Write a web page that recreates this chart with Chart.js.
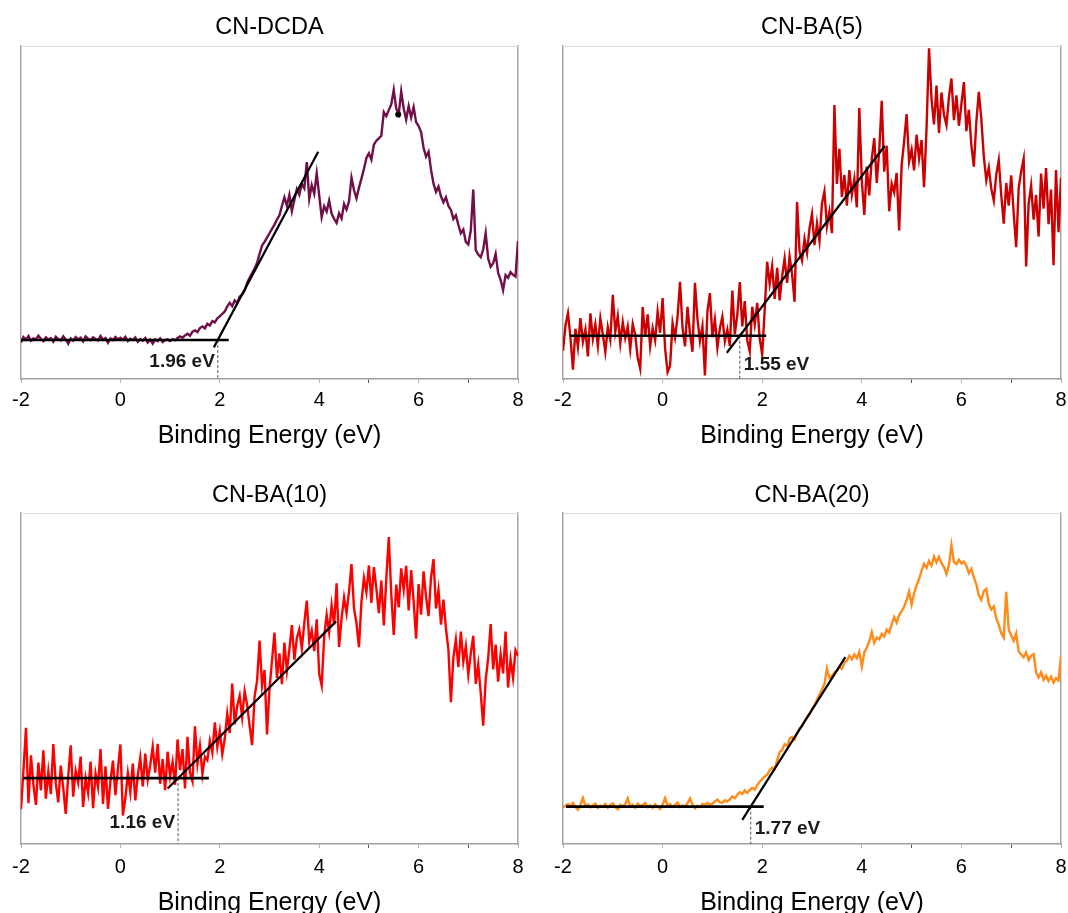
<!DOCTYPE html>
<html>
<head>
<meta charset="utf-8">
<script src="https://cdn.jsdelivr.net/npm/chart.js@4.4.1/dist/chart.umd.min.js"></script>
<style>
  html, body { margin: 0; padding: 0; background: #fff; overflow: hidden; }
  body { width: 1068px; height: 913px; position: relative; }
  canvas { position: absolute; }
</style>
</head>
<body>
<canvas id="dcda" width="534" height="456" style="left:0;top:0"></canvas>
<canvas id="ba5" width="534" height="456" style="left:534px;top:0"></canvas>
<canvas id="ba10" width="534" height="470" style="left:0;top:456px"></canvas>
<canvas id="ba20" width="534" height="470" style="left:534px;top:456px"></canvas>
<script>
// spectra are sampled every 0.05 eV starting at -2 eV
const E_START = -2;
const E_STEP = 0.05;

const panelTitles = ['CN-DCDA', 'CN-BA(5)', 'CN-BA(10)', 'CN-BA(20)'];
const bandGaps = [1.96, 1.55, 1.16, 1.77];
const baselineLevels = [11.7, 13.0, 19.9, 11.3];
const baselineSpans = [[-2.0, 2.18], [-1.86, 2.08], [-1.95, 1.78], [-1.94, 2.03]];
const tangentStarts = [[1.88, 9.5], [1.29, 7.9], [0.95, 16.8], [1.60, 7.3]];
const tangentEnds = [[3.98, 68.3], [4.46, 70.0], [4.34, 67.3], [3.67, 56.5]];
const dcdaPeakDot = [5.59, 79.5];

const dcdaCounts = [
  11.0, 12.6, 11.8, 12.9, 11.5, 12.2, 11.9, 13.0, 12.1, 11.4,
  12.5, 11.8, 12.3, 11.2, 12.7, 12.0, 11.6, 12.8, 11.9, 10.6,
  12.2, 11.5, 12.6, 11.9, 12.4, 11.3, 12.8, 12.1, 11.7, 12.5,
  12.0, 11.6, 12.9, 11.8, 12.3, 10.9, 12.2, 11.7, 12.6, 11.9,
  12.4, 11.8, 12.7, 11.4, 12.1, 11.7, 12.5, 11.2, 12.0, 11.5,
  12.3, 11.0, 11.8, 10.6, 11.9, 11.4, 12.2, 11.1, 11.7, 11.9,
  11.4, 12.0, 11.6, 12.3, 12.8, 12.4, 13.1, 13.6, 13.0, 14.2,
  14.6, 14.1, 15.3, 15.8, 15.2, 16.6, 16.1, 17.4, 17.0, 18.2,
  18.8, 19.6, 20.3, 21.8, 22.9, 21.9, 23.6, 22.8, 24.7, 25.4,
  26.5, 28.9, 30.4, 31.8, 33.2, 34.9, 37.6, 40.1, 41.2, 42.5,
  43.8, 45.1, 46.4, 47.9, 49.2, 52.0, 54.6, 52.1, 55.3, 50.4,
  53.8, 57.1, 55.4, 58.6, 57.3, 65.2, 54.1, 58.3, 55.7, 61.8,
  55.2, 48.6, 51.9, 50.3, 53.6, 49.7, 48.1, 46.9, 49.8, 48.2,
  52.6, 50.9, 53.4, 60.5, 56.8, 54.3, 57.5, 60.2, 63.1, 66.4,
  67.8, 65.9, 70.4, 71.6, 72.3, 73.1, 80.2, 79.0, 80.8, 82.5,
  86.9, 81.2, 79.6, 86.4, 81.3, 77.9, 82.0, 78.6, 81.7, 77.2,
  76.0, 74.2, 69.5, 66.8, 68.3, 62.9, 58.7, 56.2, 57.8, 54.9,
  53.1, 54.6, 52.0, 50.8, 48.1, 49.2, 46.3, 43.8, 44.9, 41.2,
  40.4, 44.6, 56.9, 38.7, 37.4, 36.6, 38.9, 43.8, 36.2, 33.7,
  34.8, 37.6, 31.9, 29.8, 26.7, 31.2, 30.4, 32.1, 31.3, 30.8,
  41.5
];

const ba5Counts = [
  8.5, 16.2, 19.8, 12.4, 2.8, 15.1, 9.6, 18.3, 11.2, 14.9,
  6.8, 19.7, 12.1, 16.4, 9.9, 18.2, 13.4, 8.1, 15.6, 11.8,
  25.3, 14.2, 18.9, 10.7, 17.1, 12.3, 15.8, 8.9, 16.5, 13.2,
  6.4, 3.1, 21.6, 12.7, 19.4, 9.8, 15.3, 11.6, 20.2, 13.9,
  24.3, 9.2, 2.1, 4.0, 16.8, 12.5, 18.6, 29.2, 15.4, 9.8,
  21.7, 13.6, 8.2, 28.9, 18.1, 11.4, 15.9, 1.1, 20.3, 25.8,
  12.6, 17.9, 9.4, 15.2, 18.7, 11.3, 14.8, 9.9, 26.6, 13.5,
  19.2, 29.1, 15.8, 23.4, 11.6, 8.3, 21.7, 16.4, 22.9, 12.1,
  7.4, 20.8, 35.2, 28.6, 33.9, 24.1, 33.4, 23.6, 30.8, 36.2,
  28.9, 36.8, 31.5, 23.2, 53.2, 38.4, 35.6, 42.1, 37.9, 45.3,
  49.6, 40.2, 46.8, 41.5, 52.7, 56.4, 45.9, 50.3, 43.8, 82.3,
  58.6, 69.2, 54.7, 61.3, 52.1, 62.8, 55.4, 60.1, 51.6, 81.4,
  59.7, 49.3, 63.8, 55.2, 66.1, 72.4, 58.9, 68.5, 83.6, 62.3,
  70.1, 50.4, 58.7, 56.1, 61.9, 44.6, 64.2, 71.5, 79.6, 65.3,
  68.9, 62.7, 73.4, 66.2, 71.8, 57.6, 75.3, 99.4, 84.1, 76.5,
  88.2, 73.9, 86.1, 79.4, 76.3, 84.7, 90.3, 77.8, 85.2, 76.1,
  82.6, 89.2, 74.5, 80.9, 70.3, 63.8, 77.2, 86.3, 78.1, 66.9,
  59.7, 63.5, 57.2, 53.6, 61.4, 65.8, 55.3, 46.7, 58.9, 52.1,
  61.2, 49.8, 39.6, 57.3, 62.4, 66.2, 33.8, 52.6, 58.1, 47.9,
  55.3, 42.8, 61.7, 51.2, 63.4, 46.5, 56.9, 34.2, 62.8, 44.1,
  60.5
];

const ba10Counts = [
  10.5, 22.4, 35.1, 12.3, 26.8, 17.9, 11.8, 24.6, 16.2, 28.3,
  13.7, 21.9, 15.1, 30.2, 18.4, 12.6, 23.7, 16.9, 9.1, 20.5,
  29.8, 14.3, 22.1, 18.6, 26.4, 11.2, 19.8, 15.4, 24.9, 10.8,
  21.3, 17.2, 28.7, 12.1, 23.5, 10.6, 19.1, 25.2, 14.8, 22.7,
  30.1, 8.6, 13.9, 21.4, 15.6, 24.3, 13.2, 20.8, 26.1, 17.4,
  27.3, 19.5, 23.8, 29.4, 21.6, 30.3, 18.2, 25.7, 16.3, 27.9,
  20.4, 24.8, 17.9, 31.6, 22.3, 28.7, 16.8, 32.4, 21.5, 18.9,
  35.6, 24.2, 29.7, 21.1, 26.4, 25.3, 31.2, 27.6, 36.8, 29.3,
  34.1, 27.2, 31.8, 39.4, 33.6, 48.5, 36.2, 41.7, 44.8, 38.3,
  46.2, 42.1, 35.7, 29.9, 44.6, 49.3, 61.5, 47.8, 52.6, 33.1,
  46.9, 55.4, 63.9, 50.2, 57.6, 48.3, 60.9, 52.4, 58.8, 66.2,
  55.7, 62.3, 64.9, 59.1, 66.8, 73.6, 61.2, 64.5, 58.3, 67.9,
  51.4, 47.9, 62.7, 69.3, 64.1, 72.2, 66.4, 78.8, 59.6, 68.2,
  74.5, 69.8, 76.4, 84.6, 71.3, 66.8, 59.5, 73.2, 80.4, 76.1,
  84.2, 72.9, 83.7, 77.3, 69.8, 79.6, 66.1, 80.2, 92.8, 75.6,
  63.2, 78.4, 71.5, 83.3, 76.9, 84.1, 70.6, 82.8, 73.4, 62.1,
  78.6, 69.3, 82.4, 74.7, 68.9, 80.5, 86.1, 71.2, 76.8, 66.3,
  73.9, 65.2, 58.7, 42.9, 56.4, 61.8, 53.5, 64.2, 55.1, 59.8,
  51.2, 57.6, 62.9, 48.4, 54.3, 45.7, 35.8, 49.6, 56.2, 66.5,
  52.8, 60.3, 49.1, 57.4, 51.6, 64.2, 47.3, 55.8, 50.2, 58.6,
  56.9
];

const ba20Counts = [
  11.0, 11.6, 12.1, 11.4, 12.4, 11.2, 10.4, 11.8, 13.9, 11.5,
  12.0, 11.1, 11.7, 12.2, 10.9, 11.6, 11.3, 12.1, 11.0, 11.8,
  12.3, 11.1, 10.5, 11.9, 11.4, 12.0, 13.8, 11.3, 11.9, 11.0,
  12.2, 11.5, 11.8, 12.4, 11.2, 11.7, 10.9, 12.0, 11.4, 10.6,
  11.9, 13.9, 11.6, 12.1, 11.3, 11.8, 12.5, 11.2, 11.7, 11.4,
  12.3, 13.8, 11.9, 10.8, 11.6, 11.2, 12.1, 11.8, 12.4, 11.9,
  12.2, 12.9, 13.4, 12.6, 12.5, 13.2, 12.8, 13.5, 14.4, 13.8,
  14.9, 15.6, 15.1, 16.2, 15.4, 16.3, 17.0, 16.4, 17.8, 18.9,
  19.6, 20.4, 20.9, 22.3, 23.1, 22.6, 25.3, 27.8, 28.4, 30.2,
  29.6, 31.8, 32.4, 31.6, 33.4, 34.9, 35.6, 37.1, 38.4, 39.2,
  40.8, 41.9, 43.6, 45.2, 46.7, 48.3, 53.1, 50.2, 50.8, 51.9,
  52.4, 53.6, 52.9, 54.8, 55.4, 56.9, 55.8, 57.3, 56.2, 58.1,
  53.6, 57.9, 59.3, 61.2, 64.1, 60.8, 62.4, 61.9, 63.5, 62.7,
  64.8, 63.9, 66.4, 68.6, 66.9, 69.2, 70.4, 71.8, 73.6, 76.3,
  72.4, 75.8, 78.2, 80.1, 82.6, 84.7, 83.5, 85.6, 84.2, 86.9,
  85.1, 86.8, 84.9, 83.7, 81.6, 84.3, 90.4, 85.2, 84.6, 85.9,
  84.8, 85.4, 84.1, 81.9, 83.2, 80.6, 78.5, 75.2, 73.8, 76.4,
  77.1, 72.6, 70.9, 71.8, 68.2, 66.3, 63.7, 62.4, 76.2, 64.8,
  63.1, 61.4, 63.7, 58.2, 57.3, 56.4, 57.9, 55.6, 56.9, 57.4,
  51.8, 50.3, 51.9, 49.6, 50.9, 49.3, 50.6, 48.8, 50.1, 49.4,
  56.9
];

const spectra = [dcdaCounts, ba5Counts, ba10Counts, ba20Counts];

Chart.defaults.font.family = '"Liberation Sans", Arial, sans-serif';
Chart.defaults.color = '#000';

// per-panel drawing setup
const panelStyles = [
  { canvas: 'dcda', color: '#700f48', padL: 21, padR: 16, titleTop: 13, titleBottom: 5, axisH: 77, tickPad: 5, axisTitlePad: 5, labelSide: 'left', labelY: 5.1 },
  { canvas: 'ba5', color: '#cc0000', padL: 29, padR: 7, titleTop: 13, titleBottom: 5, axisH: 77, tickPad: 5, axisTitlePad: 5, labelSide: 'right', labelY: 4.2 },
  { canvas: 'ba10', color: '#ff0000', padL: 21, padR: 16, titleTop: 25, titleBottom: 4, axisH: 82, tickPad: 7, axisTitlePad: 8, labelSide: 'left', labelY: 6.3 },
  { canvas: 'ba20', color: '#ff8c1a', padL: 29, padR: 7, titleTop: 25, titleBottom: 4, axisH: 82, tickPad: 7, axisTitlePad: 8, labelSide: 'right', labelY: 4.6 }
];

// writes "x.xx eV" next to the dashed onset marker
const gapLabel = {
  id: 'gapLabel',
  afterDatasetsDraw(chart, args, opts) {
    const { ctx, scales: { x, y } } = chart;
    const px = x.getPixelForValue(opts.value);
    const py = y.getPixelForValue(opts.y);
    ctx.save();
    ctx.font = 'bold 19px "Liberation Sans", Arial, sans-serif';
    ctx.fillStyle = '#1a1a1a';
    ctx.textBaseline = 'middle';
    if (opts.side === 'left') {
      ctx.textAlign = 'right';
      ctx.fillText(opts.value.toFixed(2) + ' eV', px - 3, py);
    } else {
      ctx.textAlign = 'left';
      ctx.fillText(opts.value.toFixed(2) + ' eV', px + 4, py);
    }
    ctx.restore();
  }
};

const tickShade = (tick) => {
  if (!tick) return '#b0b0b0';
  if (Math.abs(tick.value % 2) === 1) return tick.value >= 5 ? '#595959' : 'rgba(0,0,0,0)';
  return '#b0b0b0';
};

// bare axes used only for the box outline
const frameAxis = (pos, min, max, color, width) => ({
  type: 'linear', position: pos, min, max,
  ticks: { display: false },
  grid: { display: false, drawTicks: false },
  border: { color, width }
});

panelStyles.forEach((p, k) => {
  const points = spectra[k].map((v, i) => ({ x: +(E_START + i * E_STEP).toFixed(2), y: v }));
  const gap = bandGaps[k];
  const base = baselineLevels[k];

  const datasets = [
    {
      data: [{ x: baselineSpans[k][0], y: base }, { x: baselineSpans[k][1], y: base }],
      borderColor: '#000', borderWidth: 2.6, pointRadius: 0, order: 1
    },
    {
      data: [{ x: tangentStarts[k][0], y: tangentStarts[k][1] }, { x: tangentEnds[k][0], y: tangentEnds[k][1] }],
      borderColor: '#000', borderWidth: 2.2, pointRadius: 0, order: 1
    },
    {
      data: [{ x: gap, y: base }, { x: gap, y: 0 }],
      borderColor: '#555', borderWidth: 1, borderDash: [3, 2], pointRadius: 0, order: 1
    },
    {
      data: points,
      borderColor: p.color, borderWidth: 2.4, pointRadius: 0, tension: 0, order: 10
    }
  ];
  if (k === 0) {
    datasets.push({
      data: [{ x: dcdaPeakDot[0], y: dcdaPeakDot[1] }],
      showLine: false, pointRadius: 3, pointBackgroundColor: '#000', pointBorderWidth: 0, order: 0
    });
  }

  new Chart(document.getElementById(p.canvas), {
    type: 'line',
    data: { datasets },
    plugins: [gapLabel],
    options: {
      responsive: false,
      animation: false,
      devicePixelRatio: 1,
      layout: { padding: { left: p.padL, right: p.padR, top: 0, bottom: 0 } },
      plugins: {
        legend: { display: false },
        tooltip: { enabled: false },
        title: {
          display: true,
          text: panelTitles[k],
          color: '#000',
          font: { size: 23.5, weight: 'normal' },
          padding: { top: p.titleTop, bottom: p.titleBottom }
        },
        gapLabel: { value: gap, y: p.labelY, side: p.labelSide }
      },
      scales: {
        x: {
          type: 'linear', position: 'bottom', min: -2, max: 8,
          afterFit: (s) => {
            s.height = p.axisH;
            // edge labels may overhang into the layout padding
            s.paddingLeft = 0;
            s.paddingRight = 0;
          },
          border: { color: '#a0a0a0', width: 1.5 },
          grid: { drawOnChartArea: false, tickLength: 4, tickColor: (c) => tickShade(c.tick) },
          ticks: {
            stepSize: 1, autoSkip: false, maxRotation: 0, padding: p.tickPad,
            color: '#000', font: { size: 20 },
            callback: (v) => (v % 2 === 0 ? String(v) : '')
          },
          title: {
            display: true, text: 'Binding Energy (eV)', color: '#000',
            font: { size: 25 }, padding: { top: 0, bottom: p.axisTitlePad }
          }
        },
        y: frameAxis('left', 0, 100, '#a6a6a6', 1.5),
        yr: frameAxis('right', 0, 100, '#a6a6a6', 1.5),
        xt: frameAxis('top', -2, 8, '#dcdcdc', 1)
      }
    }
  });
});
</script>
</body>
</html>
